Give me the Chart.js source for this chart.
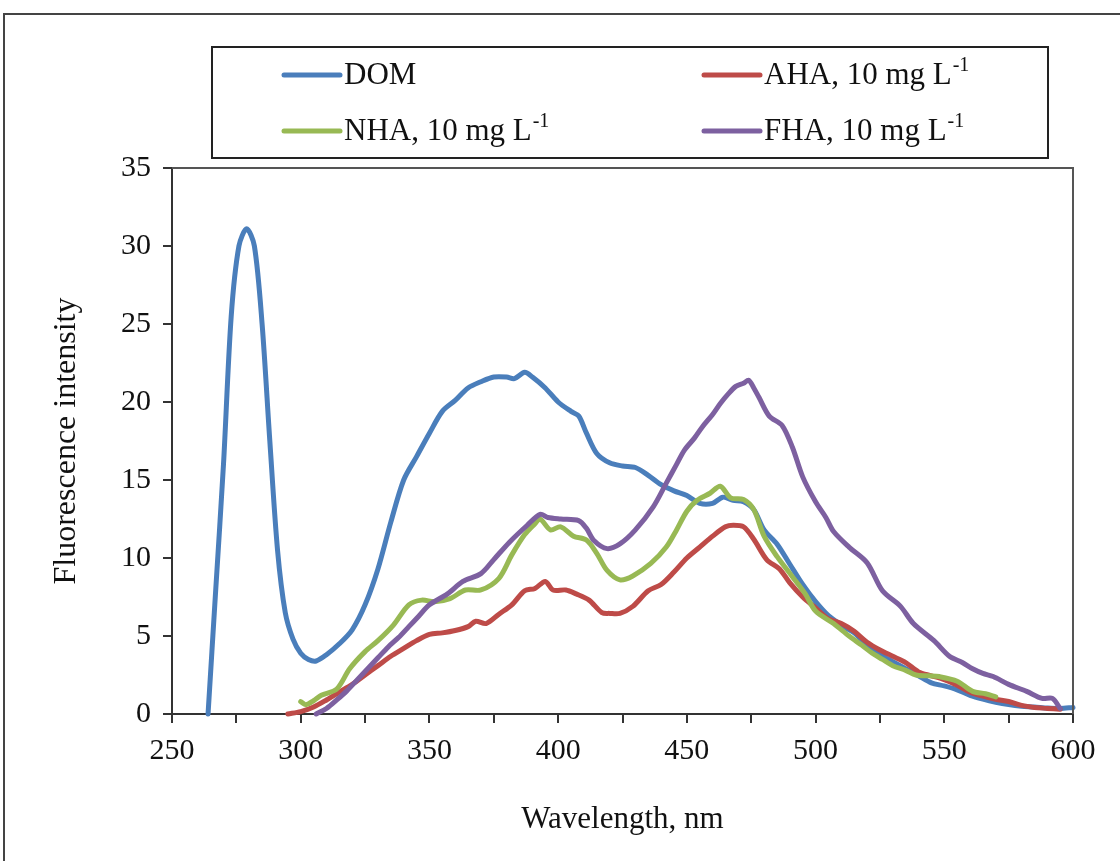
<!DOCTYPE html>
<html>
<head>
<meta charset="utf-8">
<script src="https://cdn.jsdelivr.net/npm/chart.js@4.4.1/dist/chart.umd.min.js"></script>
<style>
  html, body { margin: 0; padding: 0; background: #fff; overflow: hidden; }
  #wrap { position: relative; width: 1120px; height: 861px; }
</style>
</head>
<body>
<div id="wrap"><canvas id="chart" width="1120" height="861"></canvas></div>
<script>
// series names, '^' marks superscript part
const seriesNames = ['DOM', 'AHA, 10 mg L^-1', 'NHA, 10 mg L^-1', 'FHA, 10 mg L^-1'];
const seriesColors = ['#4a7ebb', '#be4b48', '#98b954', '#7d60a0'];

const xTicks = [250, 300, 350, 400, 450, 500, 550, 600];
const yTicks = [0, 5, 10, 15, 20, 25, 30, 35];

// DOM
const domWl = [264, 267, 270, 273, 276, 279, 282, 285, 288, 291, 294, 297, 300, 303, 306, 310, 315, 320, 325, 330,
  335, 340, 345, 350, 355, 360, 365, 370, 375, 380, 383, 387, 390, 395, 400, 405, 408, 411, 415, 420,
  425, 430, 435, 440, 445, 450, 455, 460, 464, 468, 472, 476, 480, 485, 490, 495, 500, 505, 510, 515,
  520, 525, 530, 535, 540, 545, 550, 555, 560, 565, 570, 575, 580, 585, 590, 595, 600];
const domVal = [0, 8, 16, 25.5, 30, 31.1, 30, 25, 17.5, 10.5, 6.5, 4.8, 3.9, 3.5, 3.4, 3.8, 4.5, 5.4, 7.0, 9.3,
  12.3, 15.0, 16.5, 18.0, 19.4, 20.1, 20.9, 21.3, 21.6, 21.6, 21.5, 21.9, 21.6, 20.9, 20.0, 19.4, 19.1, 18.0, 16.7, 16.1,
  15.9, 15.8, 15.3, 14.7, 14.3, 14.0, 13.5, 13.5, 13.9, 13.7, 13.6, 13.1, 11.8, 10.9, 9.6, 8.3, 7.2, 6.3, 5.7, 5.2,
  4.4, 3.8, 3.35, 2.9, 2.45, 2.0, 1.8, 1.55, 1.2, 0.95, 0.75, 0.6, 0.5, 0.45, 0.38, 0.35, 0.42];

// AHA
const ahaWl = [295, 300, 305, 310, 315, 320, 325, 330, 335, 340, 345, 350, 355, 360, 365, 368, 372, 377, 382, 387,
  391, 395, 398, 403, 407, 412, 417, 420, 424, 429, 435, 440, 445, 450, 455, 460, 465, 468, 472, 476,
  481, 486, 490, 495, 500, 505, 510, 515, 520, 525, 530, 535, 540, 545, 550, 555, 560, 565, 570, 575,
  580, 585, 590, 595];
const ahaVal = [0, 0.15, 0.45, 0.9, 1.4, 1.9, 2.5, 3.1, 3.7, 4.2, 4.7, 5.1, 5.2, 5.35, 5.6, 5.95, 5.8, 6.4, 7.0, 7.9,
  8.05, 8.5, 7.95, 7.95, 7.7, 7.3, 6.5, 6.45, 6.45, 6.9, 7.9, 8.3, 9.1, 10.0, 10.7, 11.4, 12.0, 12.1, 12.0, 11.2,
  9.9, 9.3, 8.4, 7.5, 6.8, 6.1, 5.8, 5.3, 4.6, 4.1, 3.7, 3.3, 2.7, 2.45, 2.2, 1.85, 1.4, 1.15, 0.95, 0.8,
  0.55, 0.42, 0.36, 0.3];

// NHA
const nhaWl = [300, 302, 305, 308, 314, 319, 325, 330, 336, 342, 347, 352, 358, 364, 370, 377, 382, 387, 391, 393,
  397, 401, 406, 411, 415, 419, 424, 429, 436, 442, 446, 450, 454, 459, 463, 467, 472, 476, 480, 485,
  491, 496, 500, 507, 513, 518, 522, 526, 530, 535, 539, 544, 548, 555, 561, 566, 570];
const nhaVal = [0.8, 0.6, 0.85, 1.2, 1.6, 2.9, 4.0, 4.7, 5.7, 7.0, 7.3, 7.2, 7.4, 7.95, 7.95, 8.7, 10.2, 11.5, 12.2, 12.5,
  11.8, 12.0, 11.4, 11.15, 10.3, 9.2, 8.6, 8.85, 9.65, 10.7, 11.8, 13.0, 13.7, 14.15, 14.6, 13.85, 13.75, 13.1, 11.4, 10.1,
  8.8, 7.7, 6.6, 5.8, 5.0, 4.4, 3.9, 3.5, 3.1, 2.8, 2.5, 2.45, 2.4, 2.1, 1.45, 1.3, 1.1];

// FHA
const fhaWl = [306, 310, 314, 318, 322, 326, 330, 334, 338, 342, 346, 350, 357, 363, 370, 375, 381, 388, 393, 396,
  401, 408, 411, 414, 419, 424, 430, 437, 442, 446, 449, 453, 456, 460, 463, 466, 469, 472, 474, 476,
  478, 482, 487, 491, 495, 500, 504, 507, 513, 520, 526, 533, 538, 546, 552, 557, 561, 565, 569, 575,
  582, 588, 592, 595];
const fhaVal = [0, 0.35, 0.9, 1.5, 2.2, 2.9, 3.6, 4.3, 4.9, 5.6, 6.3, 7.0, 7.7, 8.5, 9.0, 9.9, 11.0, 12.1, 12.8, 12.6,
  12.5, 12.4, 11.9, 11.1, 10.6, 10.9, 11.8, 13.3, 14.8, 16.0, 16.9, 17.7, 18.4, 19.2, 19.9, 20.5, 21.0, 21.2, 21.4, 20.9,
  20.3, 19.1, 18.5, 17.1, 15.2, 13.6, 12.6, 11.7, 10.7, 9.7, 7.9, 6.9, 5.8, 4.7, 3.7, 3.3, 2.9, 2.6, 2.4, 1.9,
  1.45, 1.0, 1.0, 0.36];

const wavelengths = [domWl, ahaWl, nhaWl, fhaWl];
const intensities = [domVal, ahaVal, nhaVal, fhaVal];

const serif = '"Liberation Serif", "Times New Roman", serif';
const axisColor = '#333';

// outer frame, plot box and the boxed legend
const decorations = {
  id: 'decorations',
  beforeDraw(chart) {
    const ctx = chart.ctx;
    ctx.save();
    ctx.fillStyle = '#fff';
    ctx.fillRect(0, 0, chart.width, chart.height);
    ctx.strokeStyle = '#444';
    ctx.lineWidth = 2;
    ctx.strokeRect(4, 14, chart.width + 20, chart.height + 20);
    ctx.restore();
  },
  afterDraw(chart) {
    const ctx = chart.ctx;
    const a = chart.chartArea;
    ctx.save();
    ctx.strokeStyle = '#555';
    ctx.lineWidth = 2;
    ctx.beginPath();
    ctx.moveTo(a.left, a.top);
    ctx.lineTo(a.right, a.top);
    ctx.lineTo(a.right, a.bottom);
    ctx.stroke();

    // legend
    ctx.strokeStyle = '#222';
    ctx.strokeRect(212, 47, 836, 111);
    const colX = [284, 704];
    const rowY = [75, 131];
    seriesNames.forEach((name, i) => {
      const x = colX[i % 2];
      const y = rowY[Math.floor(i / 2)];
      ctx.strokeStyle = seriesColors[i];
      ctx.lineWidth = 5;
      ctx.lineCap = 'round';
      ctx.beginPath();
      ctx.moveTo(x, y);
      ctx.lineTo(x + 56, y);
      ctx.stroke();
      const parts = name.split('^');
      ctx.fillStyle = '#111';
      ctx.textBaseline = 'middle';
      ctx.textAlign = 'left';
      ctx.font = '31px ' + serif;
      ctx.fillText(parts[0], x + 60, y + 1);
      if (parts[1]) {
        const w = ctx.measureText(parts[0]).width;
        ctx.font = '20px ' + serif;
        ctx.fillText(parts[1], x + 60 + w + 1, y - 9);
      }
    });
    ctx.restore();
  }
};

const datasets = seriesNames.map((name, i) => ({
  label: name.replace('^', ''),
  data: wavelengths[i].map((w, j) => ({ x: w, y: intensities[i][j] })),
  borderColor: seriesColors[i],
  backgroundColor: seriesColors[i],
  borderWidth: 5,
  pointRadius: 0,
  tension: 0.3,
  borderJoinStyle: 'round',
  borderCapStyle: 'round',
  order: seriesNames.length - i,
  clip: false
}));

new Chart(document.getElementById('chart'), {
  type: 'line',
  data: { datasets: datasets },
  options: {
    responsive: false,
    animation: false,
    layout: { padding: { top: 168, right: 47, left: 0, bottom: 0 } },
    plugins: {
      legend: { display: false },
      tooltip: { enabled: false }
    },
    scales: {
      x: {
        type: 'linear',
        min: xTicks[0],
        max: xTicks[xTicks.length - 1],
        afterFit: s => { s.height = 147; },
        afterBuildTicks: s => {
          const t = [];
          for (let v = xTicks[0]; v <= xTicks[xTicks.length - 1]; v += 25) t.push({ value: v });
          s.ticks = t;
        },
        grid: { drawOnChartArea: false, drawTicks: true, tickLength: 9, color: axisColor, lineWidth: 2 },
        border: { display: true, color: axisColor, width: 2 },
        ticks: {
          maxRotation: 0,
          autoSkip: false,
          padding: 10,
          color: '#111',
          font: { family: serif, size: 30 },
          callback: v => (xTicks.includes(v) ? String(v) : '')
        },
        title: {
          display: true,
          text: 'Wavelength, nm',
          color: '#111',
          font: { family: serif, size: 31 },
          padding: { top: 0, bottom: 23 }
        }
      },
      y: {
        min: yTicks[0],
        max: yTicks[yTicks.length - 1],
        afterFit: s => { s.width = 172; },
        afterBuildTicks: s => { s.ticks = yTicks.map(v => ({ value: v })); },
        grid: { drawOnChartArea: false, drawTicks: true, tickLength: 9, color: axisColor, lineWidth: 2 },
        border: { display: true, color: axisColor, width: 2 },
        ticks: {
          padding: 12,
          color: '#111',
          font: { family: serif, size: 30 }
        },
        title: {
          display: true,
          text: 'Fluorescence intensity',
          color: '#111',
          font: { family: serif, size: 32 },
          padding: { top: 47, bottom: 0 }
        }
      }
    }
  },
  plugins: [decorations]
});
</script>
</body>
</html>
